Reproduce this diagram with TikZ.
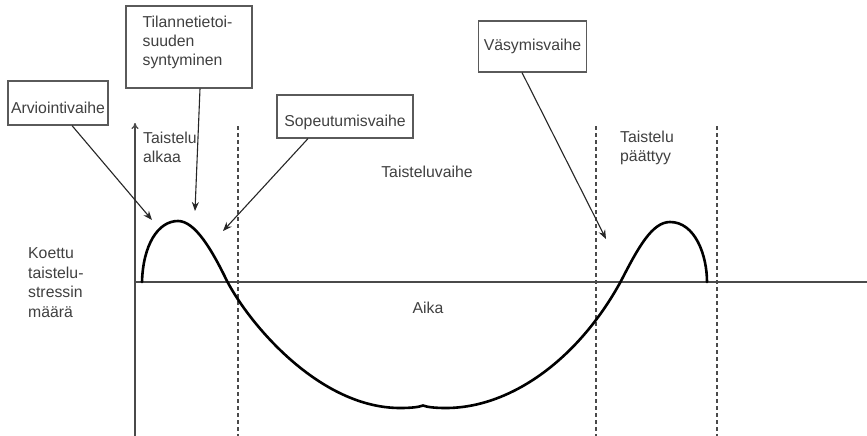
\documentclass[tikz,border=0pt]{standalone}
\usepackage{fontspec}
\setmainfont{Liberation Sans}
\usetikzlibrary{arrows.meta}
\definecolor{textgray}{HTML}{404040}
\definecolor{boxgray}{HTML}{5A5A5A}
\definecolor{axisgray}{HTML}{4A4A4A}
\begin{document}
\begin{tikzpicture}[x=1pt,y=-1pt,
  txt/.style={text=textgray, font=\fontsize{15.8}{19}\selectfont, inner sep=0pt, align=left},
  labelbox/.style={draw=boxgray, line width=1.2pt, txt, align=center},
  lowtext/.style={text height=20pt, text depth=0pt},
  callout/.style={draw=black!85, line width=1.1pt, -{Stealth[length=9pt,width=7pt]}},
  axis/.style={draw=axisgray, line width=1.4pt},
  divider/.style={draw=axisgray, line width=1.2pt, dash pattern=on 4pt off 3pt},
  stress/.style={draw=black, line width=2.6pt, line cap=round}]
\useasboundingbox[fill=white] (0,0) rectangle (867,436);

% axes
\coordinate (o) at (135,282);
\coordinate (ytop) at (135,123);
\coordinate (ybot) at (135,436);
\coordinate (xend) at (867,282);
\draw[axis, -{To[length=6pt,width=7pt]}] (ybot) -- (ytop);
\draw[axis] (o) -- (xend);

% dashed dividers
\coordinate (d1t) at (238,126); \coordinate (d1b) at (238,436);
\coordinate (d2t) at (596,126); \coordinate (d2b) at (596,436);
\coordinate (d3t) at (717,126); \coordinate (d3b) at (717,436);
\draw[divider] (d1t) -- (d1b);
\draw[divider] (d2t) -- (d2b);
\draw[divider] (d3t) -- (d3b);

% stress curve
\draw[stress] (142,282) .. controls (143,245) and (158,221) .. (178,221)
  .. controls (195,221) and (212,250) .. (227,281)
  .. controls (250,325) and (320,408) .. (400,408)
  .. controls (412,408) and (419,407) .. (423,405.5)
  .. controls (427,407) and (434,408) .. (446,408)
  .. controls (510,408) and (578,360) .. (621,281)
  .. controls (638,248) and (652,222) .. (670,222)
  .. controls (695,222) and (707,255) .. (707,282);

% boxes
\node[labelbox, lowtext, minimum width=100pt, minimum height=44pt] (arv) at (58,103) {Arviointivaihe};
\node[draw=boxgray, line width=1.2pt, minimum width=126pt, minimum height=82pt, inner sep=0pt] (til) at (189,47) {};
\node[txt, anchor=west] (tilt) at ([xshift=17pt,yshift=4.5pt]til.west) {Tilannetietoi-\\suuden\\syntyminen};
\node[labelbox, lowtext, minimum width=136pt, minimum height=43pt] (sop) at (345,116.5) {Sopeutumisvaihe};
\node[labelbox, minimum width=108pt, minimum height=51pt] (vas) at (532.5,46.5) {Väsymisvaihe};

% free texts
\node[txt, anchor=west] (alk) at (143,147.5) {Taistelu\\alkaa};
\node[txt] (tv) at (427,172) {Taisteluvaihe};
\node[txt, anchor=west] (pt) at (620,147.5) {Taistelu\\päättyy};
\node[txt] (aika) at (428,308) {Aika};
\node[txt, anchor=west, font=\fontsize{15.8}{19.7}\selectfont] (koe) at (28,282.5) {Koettu\\taistelu-\\stressin\\määrä};

% callout arrows
\coordinate (h1) at (152,220);
\coordinate (h2) at (195,211);
\coordinate (h3) at (223,231);
\coordinate (h4) at (606,239);
\draw[callout] ([xshift=14pt]arv.south) -- (h1);
\draw[callout] ([xshift=11pt]til.south) -- (h2);
\draw[callout] ([xshift=-37pt]sop.south) -- (h3);
\draw[callout] ([xshift=-10.5pt]vas.south) -- (h4);
\end{tikzpicture}
\end{document}
